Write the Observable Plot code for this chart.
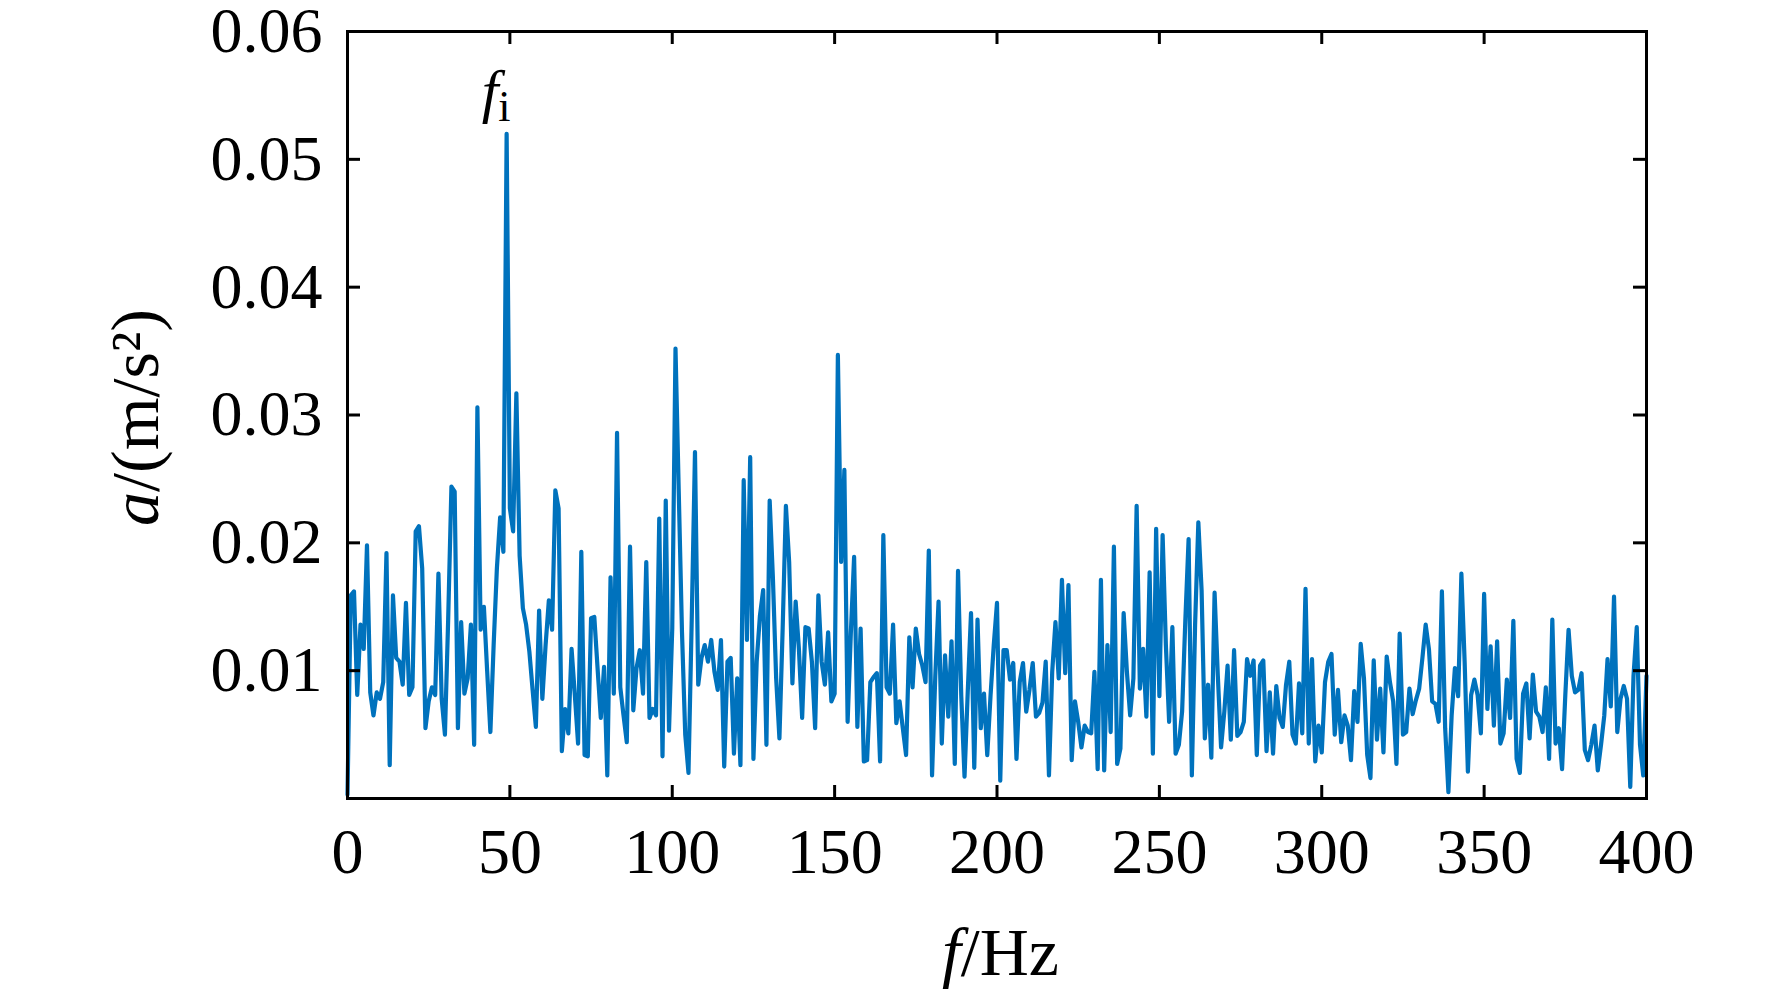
<!DOCTYPE html>
<html>
<head>
<meta charset="utf-8">
<script src="https://cdn.jsdelivr.net/npm/d3@7"></script>
<script src="https://cdn.jsdelivr.net/npm/@observablehq/plot@0.6"></script>
<style>
  html, body { margin: 0; padding: 0; background: #fff; }
  #chart svg { display: block; }
</style>
</head>
<body>
<div id="chart"></div>
<script>
// Spectrum: acceleration amplitude a (m/s²) at 1 Hz spectral lines, 0 … 400 Hz
const freqStepHz = 1;
const amp000to099 = [
  0.0003,0.0159,0.0162,0.0081,0.0136,0.0117,0.0198,0.0083,0.0065,0.0083,
  0.0078,0.0091,0.0192,0.0026,0.0159,0.0110,0.0107,0.0089,0.0153,0.0081,
  0.0087,0.0209,0.0213,0.0180,0.0055,0.0076,0.0087,0.0081,0.0176,0.0078,
  0.0050,0.0140,0.0244,0.0240,0.0055,0.0138,0.0082,0.0094,0.0136,0.0042,
  0.0306,0.0132,0.0150,0.0100,0.0052,0.0120,0.0180,0.0220,0.0193,0.0520,
  0.0227,0.0209,0.0317,0.0190,0.0149,0.0136,0.0115,0.0085,0.0056,0.0147,
  0.0078,0.0120,0.0155,0.0132,0.0241,0.0227,0.0037,0.0070,0.0051,0.0117,
  0.0081,0.0043,0.0193,0.0034,0.0033,0.0141,0.0142,0.0102,0.0063,0.0103,
  0.0018,0.0173,0.0082,0.0286,0.0087,0.0065,0.0044,0.0197,0.0069,0.0102,
  0.0116,0.0082,0.0185,0.0063,0.0070,0.0065,0.0219,0.0033,0.0233,0.0053
];
const amp100to199 = [
  0.0133,0.0352,0.0240,0.0130,0.0050,0.0020,0.0140,0.0271,0.0089,0.0110,
  0.0120,0.0107,0.0124,0.0099,0.0085,0.0124,0.0025,0.0107,0.0110,0.0035,
  0.0094,0.0026,0.0249,0.0124,0.0267,0.0031,0.0107,0.0143,0.0163,0.0042,
  0.0233,0.0172,0.0094,0.0047,0.0133,0.0229,0.0185,0.0090,0.0154,0.0117,
  0.0063,0.0134,0.0133,0.0107,0.0055,0.0159,0.0107,0.0089,0.0130,0.0076,
  0.0082,0.0347,0.0185,0.0257,0.0060,0.0130,0.0189,0.0056,0.0133,0.0029,
  0.0030,0.0091,0.0095,0.0098,0.0029,0.0206,0.0087,0.0082,0.0136,0.0059,
  0.0076,0.0055,0.0034,0.0126,0.0087,0.0133,0.0113,0.0104,0.0091,0.0194,
  0.0018,0.0096,0.0154,0.0043,0.0112,0.0064,0.0123,0.0027,0.0178,0.0080,
  0.0017,0.0084,0.0145,0.0024,0.0140,0.0055,0.0082,0.0034,0.0080,0.0120
];
const amp200to299 = [
  0.0153,0.0014,0.0116,0.0116,0.0093,0.0106,0.0031,0.0091,0.0106,0.0068,
  0.0085,0.0106,0.0064,0.0067,0.0075,0.0107,0.0018,0.0099,0.0138,0.0094,
  0.0171,0.0098,0.0167,0.0030,0.0076,0.0060,0.0040,0.0057,0.0052,0.0051,
  0.0099,0.0023,0.0171,0.0022,0.0120,0.0052,0.0197,0.0027,0.0039,0.0145,
  0.0099,0.0065,0.0094,0.0229,0.0086,0.0117,0.0064,0.0177,0.0035,0.0211,
  0.0080,0.0206,0.0120,0.0060,0.0134,0.0035,0.0042,0.0068,0.0140,0.0203,
  0.0018,0.0136,0.0216,0.0163,0.0047,0.0089,0.0032,0.0161,0.0096,0.0040,
  0.0068,0.0104,0.0046,0.0116,0.0049,0.0052,0.0060,0.0109,0.0096,0.0108,
  0.0034,0.0104,0.0108,0.0037,0.0083,0.0035,0.0088,0.0063,0.0056,0.0089,
  0.0107,0.0050,0.0043,0.0090,0.0051,0.0164,0.0043,0.0109,0.0029,0.0057
];
const amp300to400 = [
  0.0036,0.0091,0.0107,0.0113,0.0050,0.0085,0.0044,0.0065,0.0057,0.0030,
  0.0084,0.0060,0.0121,0.0094,0.0034,0.0016,0.0108,0.0046,0.0086,0.0036,
  0.0111,0.0091,0.0076,0.0027,0.0129,0.0050,0.0052,0.0086,0.0066,0.0077,
  0.0086,0.0110,0.0136,0.0117,0.0076,0.0074,0.0060,0.0162,0.0055,0.0005,
  0.0065,0.0102,0.0080,0.0176,0.0107,0.0021,0.0081,0.0093,0.0081,0.0051,
  0.0160,0.0070,0.0119,0.0057,0.0123,0.0043,0.0051,0.0093,0.0063,0.0139,
  0.0031,0.0020,0.0082,0.0090,0.0047,0.0097,0.0068,0.0064,0.0052,0.0087,
  0.0031,0.0140,0.0043,0.0055,0.0023,0.0081,0.0132,0.0096,0.0083,0.0085,
  0.0098,0.0038,0.0030,0.0042,0.0057,0.0022,0.0042,0.0065,0.0109,0.0072,
  0.0158,0.0052,0.0078,0.0088,0.0078,0.0009,0.0096,0.0134,0.0042,0.0018,
  0.0096
];
const xTicks = [0, 50, 100, 150, 200, 250, 300, 350, 400];
const yTicks = [0.01, 0.02, 0.03, 0.04, 0.05, 0.06];
const xDomain = [0, 400];
const yDomain = [0, 0.06];
const peakLabel = "f";
const peakLabelSub = "i";

const amplitudes = [...amp000to099, ...amp100to199, ...amp200to299, ...amp300to400];
const data = amplitudes.map((a, i) => ({ f: i * freqStepHz, a }));

const W = 1772, H = 990;
const mL = 347, mR = 126, mT = 31, mB = 192;
const plotH = H - mT - mB, plotW = W - mL - mR;
const tickLen = 13;
const serif = "'Liberation Serif', 'Times New Roman', Times, serif";

const plot = Plot.plot({
  width: W, height: H,
  marginLeft: mL, marginRight: mR, marginTop: mT, marginBottom: mB,
  style: { fontFamily: serif, background: "white", color: "black", overflow: "visible" },
  x: { domain: xDomain },
  y: { domain: yDomain },
  marks: [
    Plot.line(data, { x: "f", y: "a", stroke: "#0072BD", strokeWidth: 4.2 }),
    // inward ticks on all four sides (box style)
    Plot.tickX(xTicks, { x: d => d, insetTop: plotH - tickLen, stroke: "black", strokeWidth: 3 }),
    Plot.tickX(xTicks, { x: d => d, insetBottom: plotH - tickLen, stroke: "black", strokeWidth: 3 }),
    Plot.tickY(yTicks, { y: d => d, insetRight: plotW - tickLen, stroke: "black", strokeWidth: 3 }),
    Plot.tickY(yTicks, { y: d => d, insetLeft: plotW - tickLen, stroke: "black", strokeWidth: 3 }),
    Plot.axisX(xTicks, { tickSize: 0, tickPadding: 29, fontSize: 64, label: null, tickFormat: d => String(d) }),
    Plot.axisY(yTicks, { tickSize: 0, tickPadding: 25, fontSize: 64, label: null, tickFormat: d3.format(".2f") }),
    Plot.frame({ stroke: "black", strokeWidth: 3 })
  ]
});

document.getElementById("chart").appendChild(plot);

const svg = d3.select(plot);
const xs = plot.scale("x"), ys = plot.scale("y");

// x-axis title: f/Hz
const xt = svg.append("text")
  .attr("x", mL + plotW / 2 + 4)
  .attr("y", 975)
  .attr("text-anchor", "middle")
  .attr("font-family", serif)
  .attr("font-size", 68)
  .attr("fill", "black");
xt.append("tspan").attr("font-style", "italic").text("f");
xt.append("tspan").text("/Hz");

// y-axis title: a/(m/s²)
const yt = svg.append("text")
  .attr("transform", `translate(158,${mT + plotH / 2 + 3}) rotate(-90)`)
  .attr("text-anchor", "middle")
  .attr("font-family", serif)
  .attr("font-size", 68)
  .attr("fill", "black");
yt.append("tspan").attr("font-style", "italic").text("a");
yt.append("tspan").text("/(m/s²)");

// peak annotation f_i
const peak = d3.greatest(data, d => d.a);
const pt = svg.append("text")
  .attr("x", xs.apply(peak.f) - 10)
  .attr("y", ys.apply(peak.a) - 22)
  .attr("text-anchor", "middle")
  .attr("font-family", serif)
  .attr("font-size", 60)
  .attr("fill", "black");
pt.append("tspan").attr("font-style", "italic").text(peakLabel);
pt.append("tspan").attr("font-size", 44).attr("dy", 10).attr("fill", "black").text(peakLabelSub);
</script>
</body>
</html>
